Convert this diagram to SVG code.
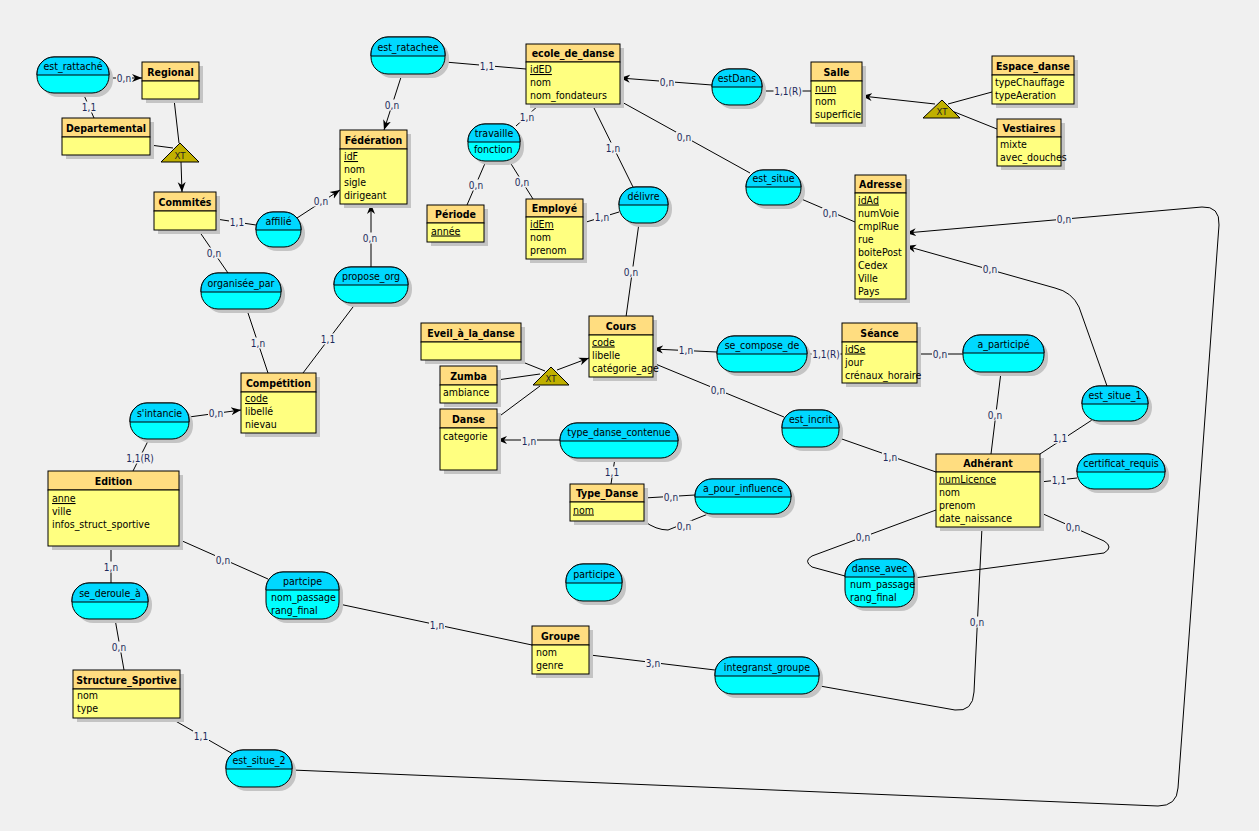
<svg xmlns="http://www.w3.org/2000/svg" width="1259" height="831" viewBox="0 0 1259 831">
<style>
text{font-family:"DejaVu Sans Condensed","DejaVu Sans",sans-serif;fill:#000}
.sh{fill:#c4c4c4}
.hd{fill:#ffdd80;stroke:#000;stroke-width:1}
.bd{fill:#ffff80;stroke:#000;stroke-width:1}
.ab{fill:#00ffff;stroke:#000;stroke-width:1}
.ah{fill:#00d8ff;stroke:#000;stroke-width:1}
.t{font-size:10.5px;font-weight:bold;text-anchor:middle}
.a{font-size:10.5px}
.u{text-decoration:underline}
.n{font-size:10.5px;text-anchor:middle}
.c{fill:none;stroke:#000;stroke-width:1}
.lb{fill:#f0f0f0}
.l{font-size:10px;text-anchor:middle;fill:#1c2a5a}
.tri{fill:#c0b000;stroke:#000;stroke-width:1}
.x{font-size:9.5px;text-anchor:middle;fill:#222}
</style>
<defs>
<marker id="arr" markerUnits="userSpaceOnUse" markerWidth="10" markerHeight="10" refX="10" refY="5" orient="auto">
<path d="M0,1 L10,5 L0,9 L3,5 Z" fill="#000"/>
</marker>
</defs>
<rect width="1259" height="831" fill="#f0f0f0"/>
<g id="connectors">
<path class="c" d="M109,78 L142,78" marker-end="url(#arr)"/>
<path class="c" d="M83,93 L94,118"/>
<path class="c" d="M174,99 L179,143"/>
<path class="c" d="M150,145 L173,148"/>
<path class="c" d="M181,162 L182,192" marker-end="url(#arr)"/>
<path class="c" d="M216,219 L256,225"/>
<path class="c" d="M297,218 L340,190" marker-end="url(#arr)"/>
<path class="c" d="M199,231 L228,273"/>
<path class="c" d="M371,267 L371,204" marker-end="url(#arr)"/>
<path class="c" d="M402,74 L384,130" marker-end="url(#arr)"/>
<path class="c" d="M445,62 L526,69"/>
<path class="c" d="M247,310 L268,373"/>
<path class="c" d="M356,303 L303,373"/>
<path class="c" d="M189,417 L241,410" marker-end="url(#arr)"/>
<path class="c" d="M149,439 L133,471"/>
<path class="c" d="M111,546 L111,583"/>
<path class="c" d="M115,619 L124,670"/>
<path class="c" d="M180,540 L268,579"/>
<path class="c" d="M339,604 L532,645"/>
<path class="c" d="M590,655 L715,670"/>
<path class="c" d="M820,686 L955,710 Q973,712 974,692 L982,527"/>
<path class="c" d="M292,770 L1158,806 Q1177,806 1178,788 L1219,225 Q1220,206 1202,207 L906,233" marker-end="url(#arr)"/>
<path class="c" d="M172,719 L233,754"/>
<path class="c" d="M1107,386 L1079,307 Q1072,292 1055,288 L906,246" marker-end="url(#arr)"/>
<path class="c" d="M1092,420 L1040,454"/>
<path class="c" d="M1040,482 L1077,478"/>
<path class="c" d="M1001,372 L991,454"/>
<path class="c" d="M917,354 L963,354"/>
<path class="c" d="M839,438 L936,472"/>
<path class="c" d="M936,510 L812,556 Q803,561 812,567 L845,576"/>
<path class="c" d="M1041,513 L1104,541 Q1114,547 1104,553 L914,578"/>
<path class="c" d="M784,417 L653,363"/>
<path class="c" d="M717,352 L653,349" marker-end="url(#arr)"/>
<path class="c" d="M807,354 L842,354"/>
<path class="c" d="M626,317 L639,223"/>
<path class="c" d="M583,223 L619,212"/>
<path class="c" d="M633,187 L592,104"/>
<path class="c" d="M516,126 L540,104"/>
<path class="c" d="M486,161 L467,205"/>
<path class="c" d="M508,159 L533,199"/>
<path class="c" d="M712,85 L620,78" marker-end="url(#arr)"/>
<path class="c" d="M762,91 L811,91"/>
<path class="c" d="M620,101 L750,173"/>
<path class="c" d="M799,198 L855,222"/>
<path class="c" d="M935,104 L862,96" marker-end="url(#arr)"/>
<path class="c" d="M948,104 L992,92"/>
<path class="c" d="M952,111 L997,129"/>
<path class="c" d="M497,380 L540,374"/>
<path class="c" d="M520,361 L545,371"/>
<path class="c" d="M497,418 L540,386"/>
<path class="c" d="M557,370 L589,358" marker-end="url(#arr)"/>
<path class="c" d="M560,440 L497,440" marker-end="url(#arr)"/>
<path class="c" d="M615,458 L611,484"/>
<path class="c" d="M644,498 L695,495"/>
<path class="c" d="M644,521 Q656,530 668,530 L708,514"/>
<rect class="lb" x="116" y="72.5" width="16" height="11"/><text class="l" x="124" y="81.5">0,n</text>
<rect class="lb" x="81" y="101.5" width="16" height="11"/><text class="l" x="89" y="110.5">1,1</text>
<rect class="lb" x="229" y="216.5" width="16" height="11"/><text class="l" x="237" y="225.5">1,1</text>
<rect class="lb" x="313" y="195.5" width="16" height="11"/><text class="l" x="321" y="204.5">0,n</text>
<rect class="lb" x="206" y="247.5" width="16" height="11"/><text class="l" x="214" y="256.5">0,n</text>
<rect class="lb" x="362" y="232.5" width="16" height="11"/><text class="l" x="370" y="241.5">0,n</text>
<rect class="lb" x="384" y="99.5" width="16" height="11"/><text class="l" x="392" y="108.5">0,n</text>
<rect class="lb" x="479" y="60.5" width="16" height="11"/><text class="l" x="487" y="69.5">1,1</text>
<rect class="lb" x="250" y="337.5" width="16" height="11"/><text class="l" x="258" y="346.5">1,n</text>
<rect class="lb" x="320" y="333.5" width="16" height="11"/><text class="l" x="328" y="342.5">1,1</text>
<rect class="lb" x="208" y="407.5" width="16" height="11"/><text class="l" x="216" y="416.5">0,n</text>
<rect class="lb" x="125.5" y="452.5" width="29" height="11"/><text class="l" x="140" y="461.5">1,1(R)</text>
<rect class="lb" x="103" y="561.5" width="16" height="11"/><text class="l" x="111" y="570.5">1,n</text>
<rect class="lb" x="111" y="641.5" width="16" height="11"/><text class="l" x="119" y="650.5">0,n</text>
<rect class="lb" x="215" y="554.5" width="16" height="11"/><text class="l" x="223" y="563.5">0,n</text>
<rect class="lb" x="429" y="619.5" width="16" height="11"/><text class="l" x="437" y="628.5">1,n</text>
<rect class="lb" x="645" y="657.5" width="16" height="11"/><text class="l" x="653" y="666.5">3,n</text>
<rect class="lb" x="969" y="616.5" width="16" height="11"/><text class="l" x="977" y="625.5">0,n</text>
<rect class="lb" x="1056" y="213.5" width="16" height="11"/><text class="l" x="1064" y="222.5">0,n</text>
<rect class="lb" x="193" y="730.5" width="16" height="11"/><text class="l" x="201" y="739.5">1,1</text>
<rect class="lb" x="982" y="263.5" width="16" height="11"/><text class="l" x="990" y="272.5">0,n</text>
<rect class="lb" x="1052" y="432.5" width="16" height="11"/><text class="l" x="1060" y="441.5">1,1</text>
<rect class="lb" x="1051" y="474.5" width="16" height="11"/><text class="l" x="1059" y="483.5">1,1</text>
<rect class="lb" x="987" y="409.5" width="16" height="11"/><text class="l" x="995" y="418.5">0,n</text>
<rect class="lb" x="932" y="348.5" width="16" height="11"/><text class="l" x="940" y="357.5">0,n</text>
<rect class="lb" x="882" y="451.5" width="16" height="11"/><text class="l" x="890" y="460.5">1,n</text>
<rect class="lb" x="855" y="531.5" width="16" height="11"/><text class="l" x="863" y="540.5">0,n</text>
<rect class="lb" x="1065" y="521.5" width="16" height="11"/><text class="l" x="1073" y="530.5">0,n</text>
<rect class="lb" x="710" y="384.5" width="16" height="11"/><text class="l" x="718" y="393.5">0,n</text>
<rect class="lb" x="678" y="344.5" width="16" height="11"/><text class="l" x="686" y="353.5">1,n</text>
<rect class="lb" x="811.5" y="348.5" width="29" height="11"/><text class="l" x="826" y="357.5">1,1(R)</text>
<rect class="lb" x="623" y="266.5" width="16" height="11"/><text class="l" x="631" y="275.5">0,n</text>
<rect class="lb" x="594" y="211.5" width="16" height="11"/><text class="l" x="602" y="220.5">1,n</text>
<rect class="lb" x="605" y="142.5" width="16" height="11"/><text class="l" x="613" y="151.5">1,n</text>
<rect class="lb" x="519" y="111.5" width="16" height="11"/><text class="l" x="527" y="120.5">1,n</text>
<rect class="lb" x="468" y="179.5" width="16" height="11"/><text class="l" x="476" y="188.5">0,n</text>
<rect class="lb" x="514" y="176.5" width="16" height="11"/><text class="l" x="522" y="185.5">0,n</text>
<rect class="lb" x="659" y="76.5" width="16" height="11"/><text class="l" x="667" y="85.5">0,n</text>
<rect class="lb" x="773.5" y="85.5" width="29" height="11"/><text class="l" x="788" y="94.5">1,1(R)</text>
<rect class="lb" x="676" y="131.5" width="16" height="11"/><text class="l" x="684" y="140.5">0,n</text>
<rect class="lb" x="822" y="207.5" width="16" height="11"/><text class="l" x="830" y="216.5">0,n</text>
<rect class="lb" x="521" y="435.5" width="16" height="11"/><text class="l" x="529" y="444.5">1,n</text>
<rect class="lb" x="604" y="466.5" width="16" height="11"/><text class="l" x="612" y="475.5">1,1</text>
<rect class="lb" x="663" y="491.5" width="16" height="11"/><text class="l" x="671" y="500.5">0,n</text>
<rect class="lb" x="676" y="520.5" width="16" height="11"/><text class="l" x="684" y="529.5">0,n</text>
</g>
<g id="xt1"><polygon class="tri" points="180,143 161,162 199,162"/><text class="x" x="180" y="159">XT</text></g>
<g id="xt2"><polygon class="tri" points="942,100 923,118 960,118"/><text class="x" x="942" y="115">XT</text></g>
<g id="xt3"><polygon class="tri" points="551,367 533,385 569,385"/><text class="x" x="551" y="382">XT</text></g>
<g id="regional"><rect class="sh" x="146" y="66" width="57" height="37"/><rect class="hd" x="142" y="62" width="57" height="19"/><rect class="bd" x="142" y="81" width="57" height="18"/><text class="t" x="170.5" y="75.5">Regional</text></g>
<g id="departemental"><rect class="sh" x="66" y="122" width="88" height="37"/><rect class="hd" x="62" y="118" width="88" height="19"/><rect class="bd" x="62" y="137" width="88" height="18"/><text class="t" x="106" y="131.5">Departemental</text></g>
<g id="commites"><rect class="sh" x="158" y="196" width="62" height="38"/><rect class="hd" x="154" y="192" width="62" height="19"/><rect class="bd" x="154" y="211" width="62" height="19"/><text class="t" x="185" y="205.5">Commités</text></g>
<g id="federation"><rect class="sh" x="344" y="134" width="67" height="74"/><rect class="hd" x="340" y="130" width="67" height="19"/><rect class="bd" x="340" y="149" width="67" height="55"/><text class="t" x="373.5" y="143.5">Fédération</text><text class="a u" x="344" y="160">idF</text><text class="a" x="344" y="173">nom</text><text class="a" x="344" y="186">sigle</text><text class="a" x="344" y="199">dirigeant</text></g>
<g id="competition"><rect class="sh" x="245" y="377" width="75" height="60"/><rect class="hd" x="241" y="373" width="75" height="19"/><rect class="bd" x="241" y="392" width="75" height="41"/><text class="t" x="278.5" y="386.5">Compétition</text><text class="a u" x="245" y="402">code</text><text class="a" x="245" y="415">libellé</text><text class="a" x="245" y="428">nievau</text></g>
<g id="edition"><rect class="sh" x="52" y="475" width="131" height="75"/><rect class="hd" x="48" y="471" width="131" height="19"/><rect class="bd" x="48" y="490" width="131" height="56"/><text class="t" x="113.5" y="484.5">Edition</text><text class="a u" x="52" y="502">anne</text><text class="a" x="52" y="515">ville</text><text class="a" x="52" y="528">infos_struct_sportive</text></g>
<g id="structure_sportive"><rect class="sh" x="77" y="674" width="107" height="48"/><rect class="hd" x="73" y="670" width="107" height="19"/><rect class="bd" x="73" y="689" width="107" height="29"/><text class="t" x="126.5" y="683.5">Structure_Sportive</text><text class="a" x="77" y="699">nom</text><text class="a" x="77" y="712">type</text></g>
<g id="ecole_de_danse"><rect class="sh" x="530" y="48" width="94" height="60"/><rect class="hd" x="526" y="44" width="94" height="18"/><rect class="bd" x="526" y="62" width="94" height="42"/><text class="t" x="573" y="57">ecole_de_danse</text><text class="a u" x="530" y="73">idED</text><text class="a" x="530" y="86">nom</text><text class="a" x="530" y="99">nom_fondateurs</text></g>
<g id="periode"><rect class="sh" x="431" y="209" width="57" height="37"/><rect class="hd" x="427" y="205" width="57" height="18"/><rect class="bd" x="427" y="223" width="57" height="19"/><text class="t" x="455.5" y="218">Période</text><text class="a u" x="431" y="234.5">année</text></g>
<g id="employe"><rect class="sh" x="530" y="203" width="57" height="60"/><rect class="hd" x="526" y="199" width="57" height="18"/><rect class="bd" x="526" y="217" width="57" height="42"/><text class="t" x="554.5" y="212">Employé</text><text class="a u" x="530" y="228">idEm</text><text class="a" x="530" y="241">nom</text><text class="a" x="530" y="254">prenom</text></g>
<g id="salle"><rect class="sh" x="815" y="66" width="51" height="61"/><rect class="hd" x="811" y="62" width="51" height="19"/><rect class="bd" x="811" y="81" width="51" height="42"/><text class="t" x="836.5" y="75.5">Salle</text><text class="a u" x="815" y="92">num</text><text class="a" x="815" y="105">nom</text><text class="a" x="815" y="118">superficie</text></g>
<g id="espace_danse"><rect class="sh" x="996" y="60" width="82" height="48"/><rect class="hd" x="992" y="56" width="82" height="19"/><rect class="bd" x="992" y="75" width="82" height="29"/><text class="t" x="1033" y="69.5">Espace_danse</text><text class="a" x="995" y="85.5">typeChauffage</text><text class="a" x="995" y="98.5">typeAeration</text></g>
<g id="vestiaires"><rect class="sh" x="1001" y="123" width="64" height="47"/><rect class="hd" x="997" y="119" width="64" height="18"/><rect class="bd" x="997" y="137" width="64" height="29"/><text class="t" x="1029" y="132">Vestiaires</text><text class="a" x="1000" y="147.5">mixte</text><text class="a" x="1000" y="160.5">avec_douches</text></g>
<g id="adresse"><rect class="sh" x="859" y="179" width="51" height="124"/><rect class="hd" x="855" y="175" width="51" height="18"/><rect class="bd" x="855" y="193" width="51" height="106"/><text class="t" x="880.5" y="188">Adresse</text><text class="a u" x="858" y="203.5">idAd</text><text class="a" x="858" y="216.5">numVoie</text><text class="a" x="858" y="229.5">cmplRue</text><text class="a" x="858" y="242.5">rue</text><text class="a" x="858" y="255.5">boitePost</text><text class="a" x="858" y="268.5">Cedex</text><text class="a" x="858" y="281.5">Ville</text><text class="a" x="858" y="294.5">Pays</text></g>
<g id="eveil"><rect class="sh" x="425" y="327" width="100" height="37"/><rect class="hd" x="421" y="323" width="100" height="19"/><rect class="bd" x="421" y="342" width="100" height="18"/><text class="t" x="471" y="336.5">Eveil_à_la_danse</text></g>
<g id="zumba"><rect class="sh" x="444" y="370" width="57" height="37"/><rect class="hd" x="440" y="366" width="57" height="19"/><rect class="bd" x="440" y="385" width="57" height="18"/><text class="t" x="468.5" y="379.5">Zumba</text><text class="a" x="443" y="395.5">ambiance</text></g>
<g id="danse"><rect class="sh" x="444" y="413" width="57" height="61"/><rect class="hd" x="440" y="409" width="57" height="19"/><rect class="bd" x="440" y="428" width="57" height="42"/><text class="t" x="468.5" y="422.5">Danse</text><text class="a" x="443" y="439.5">categorie</text></g>
<g id="cours"><rect class="sh" x="593" y="320" width="64" height="61"/><rect class="hd" x="589" y="316" width="64" height="19"/><rect class="bd" x="589" y="335" width="64" height="42"/><text class="t" x="621" y="329.5">Cours</text><text class="a u" x="592" y="345.5">code</text><text class="a" x="592" y="358.5">libelle</text><text class="a" x="592" y="371.5">catégorie_age</text></g>
<g id="type_danse"><rect class="sh" x="574" y="488" width="74" height="37"/><rect class="hd" x="570" y="484" width="74" height="18"/><rect class="bd" x="570" y="502" width="74" height="19"/><text class="t" x="607" y="497">Type_Danse</text><text class="a u" x="573" y="513.5">nom</text></g>
<g id="seance"><rect class="sh" x="846" y="327" width="75" height="60"/><rect class="hd" x="842" y="323" width="75" height="19"/><rect class="bd" x="842" y="342" width="75" height="41"/><text class="t" x="879.5" y="336.5">Séance</text><text class="a u" x="845" y="352.5">idSe</text><text class="a" x="845" y="365.5">jour</text><text class="a" x="845" y="378.5">crénaux_horaire</text></g>
<g id="adherant"><rect class="sh" x="940" y="458" width="104" height="73"/><rect class="hd" x="936" y="454" width="104" height="18"/><rect class="bd" x="936" y="472" width="104" height="55"/><text class="t" x="988" y="467">Adhérant</text><text class="a u" x="939" y="482.5">numLicence</text><text class="a" x="939" y="495.5">nom</text><text class="a" x="939" y="508.5">prenom</text><text class="a" x="939" y="521.5">date_naissance</text></g>
<g id="groupe"><rect class="sh" x="536" y="630" width="57" height="48"/><rect class="hd" x="532" y="626" width="57" height="19"/><rect class="bd" x="532" y="645" width="57" height="29"/><text class="t" x="560.5" y="639.5">Groupe</text><text class="a" x="536" y="656">nom</text><text class="a" x="536" y="669">genre</text></g>
<g id="est_rattache"><rect class="sh" x="41" y="61" width="72" height="36" rx="17"/><rect class="ab" x="37" y="57" width="72" height="36" rx="17"/><path class="ah" d="M37,75 V74 A17,17 0 0 1 54,57 H92 A17,17 0 0 1 109,74 V75 Z"/><text class="n" x="73" y="70">est_rattaché</text></g>
<g id="affilie"><rect class="sh" x="260" y="216" width="45" height="35" rx="17"/><rect class="ab" x="256" y="212" width="45" height="35" rx="17"/><path class="ah" d="M256,230 V229 A17,17 0 0 1 273,212 H284 A17,17 0 0 1 301,229 V230 Z"/><text class="n" x="278.5" y="225">affilié</text></g>
<g id="organisee_par"><rect class="sh" x="205" y="277" width="80" height="36" rx="17"/><rect class="ab" x="201" y="273" width="80" height="36" rx="17"/><path class="ah" d="M201,292 V290 A17,17 0 0 1 218,273 H264 A17,17 0 0 1 281,290 V292 Z"/><text class="n" x="241" y="286.5">organisée_par</text></g>
<g id="propose_org"><rect class="sh" x="338" y="271" width="74" height="36" rx="17"/><rect class="ab" x="334" y="267" width="74" height="36" rx="17"/><path class="ah" d="M334,285 V284 A17,17 0 0 1 351,267 H391 A17,17 0 0 1 408,284 V285 Z"/><text class="n" x="371" y="280">propose_org</text></g>
<g id="s_intancie"><rect class="sh" x="134" y="407" width="59" height="36" rx="17"/><rect class="ab" x="130" y="403" width="59" height="36" rx="17"/><path class="ah" d="M130,422 V420 A17,17 0 0 1 147,403 H172 A17,17 0 0 1 189,420 V422 Z"/><text class="n" x="159.5" y="416.5">s'intancie</text></g>
<g id="se_deroule_a"><rect class="sh" x="76" y="587" width="76" height="36" rx="17"/><rect class="ab" x="72" y="583" width="76" height="36" rx="17"/><path class="ah" d="M72,602 V600 A17,17 0 0 1 89,583 H131 A17,17 0 0 1 148,600 V602 Z"/><text class="n" x="110" y="596.5">se_deroule_à</text></g>
<g id="partcipe"><rect class="sh" x="270" y="576" width="73" height="47" rx="17"/><rect class="ab" x="266" y="572" width="73" height="47" rx="17"/><path class="ah" d="M266,590 V589 A17,17 0 0 1 283,572 H322 A17,17 0 0 1 339,589 V590 Z"/><text class="n" x="302.5" y="585">partcipe</text><text class="a" x="271" y="601">nom_passage</text><text class="a" x="271" y="614">rang_final</text></g>
<g id="est_situe_2"><rect class="sh" x="230" y="754" width="66" height="37" rx="17"/><rect class="ab" x="226" y="750" width="66" height="37" rx="17"/><path class="ah" d="M226,769 V767 A17,17 0 0 1 243,750 H275 A17,17 0 0 1 292,767 V769 Z"/><text class="n" x="259" y="763.5">est_situe_2</text></g>
<g id="est_ratachee"><rect class="sh" x="375" y="41" width="74" height="37" rx="17"/><rect class="ab" x="371" y="37" width="74" height="37" rx="17"/><path class="ah" d="M371,56 V54 A17,17 0 0 1 388,37 H428 A17,17 0 0 1 445,54 V56 Z"/><text class="n" x="408" y="50.5">est_ratachee</text></g>
<g id="travaille"><rect class="sh" x="472" y="128" width="52" height="37" rx="17"/><rect class="ab" x="468" y="124" width="52" height="37" rx="17"/><path class="ah" d="M468,142 V141 A17,17 0 0 1 485,124 H503 A17,17 0 0 1 520,141 V142 Z"/><text class="n" x="494" y="137">travaille</text><text class="a" x="474" y="153">fonction</text></g>
<g id="delivre"><rect class="sh" x="623" y="191" width="49" height="36" rx="17"/><rect class="ab" x="619" y="187" width="49" height="36" rx="17"/><path class="ah" d="M619,205 V204 A17,17 0 0 1 636,187 H651 A17,17 0 0 1 668,204 V205 Z"/><text class="n" x="643.5" y="200">délivre</text></g>
<g id="estDans"><rect class="sh" x="716" y="73" width="50" height="36" rx="17"/><rect class="ab" x="712" y="69" width="50" height="36" rx="17"/><path class="ah" d="M712,87 V86 A17,17 0 0 1 729,69 H745 A17,17 0 0 1 762,86 V87 Z"/><text class="n" x="737" y="82">estDans</text></g>
<g id="est_situe"><rect class="sh" x="750" y="174" width="55" height="35" rx="17"/><rect class="ab" x="746" y="170" width="55" height="35" rx="17"/><path class="ah" d="M746,187 A17,17 0 0 1 763,170 H784 A17,17 0 0 1 801,187 Z"/><text class="n" x="773.5" y="182">est_situe</text></g>
<g id="se_compose_de"><rect class="sh" x="721" y="340" width="90" height="36" rx="17"/><rect class="ab" x="717" y="336" width="90" height="36" rx="17"/><path class="ah" d="M717,354 V353 A17,17 0 0 1 734,336 H790 A17,17 0 0 1 807,353 V354 Z"/><text class="n" x="762" y="349">se_compose_de</text></g>
<g id="est_incrit"><rect class="sh" x="786" y="414" width="57" height="37" rx="17"/><rect class="ab" x="782" y="410" width="57" height="37" rx="17"/><path class="ah" d="M782,428 V427 A17,17 0 0 1 799,410 H822 A17,17 0 0 1 839,427 V428 Z"/><text class="n" x="810.5" y="423">est_incrit</text></g>
<g id="type_danse_contenue"><rect class="sh" x="564" y="427" width="118" height="35" rx="17"/><rect class="ab" x="560" y="423" width="118" height="35" rx="17"/><path class="ah" d="M560,441 V440 A17,17 0 0 1 577,423 H661 A17,17 0 0 1 678,440 V441 Z"/><text class="n" x="619" y="436">type_danse_contenue</text></g>
<g id="a_pour_influence"><rect class="sh" x="699" y="483" width="96" height="35" rx="17"/><rect class="ab" x="695" y="479" width="96" height="35" rx="17"/><path class="ah" d="M695,497 V496 A17,17 0 0 1 712,479 H774 A17,17 0 0 1 791,496 V497 Z"/><text class="n" x="743" y="492">a_pour_influence</text></g>
<g id="a_participe"><rect class="sh" x="967" y="339" width="81" height="37" rx="17"/><rect class="ab" x="963" y="335" width="81" height="37" rx="17"/><path class="ah" d="M963,353 V352 A17,17 0 0 1 980,335 H1027 A17,17 0 0 1 1044,352 V353 Z"/><text class="n" x="1003.5" y="348">a_participé</text></g>
<g id="est_situe_1"><rect class="sh" x="1086" y="390" width="66" height="35" rx="17"/><rect class="ab" x="1082" y="386" width="66" height="35" rx="17"/><path class="ah" d="M1082,404 V403 A17,17 0 0 1 1099,386 H1131 A17,17 0 0 1 1148,403 V404 Z"/><text class="n" x="1115" y="399">est_situe_1</text></g>
<g id="certificat_requis"><rect class="sh" x="1081" y="458" width="88" height="35" rx="17"/><rect class="ab" x="1077" y="454" width="88" height="35" rx="17"/><path class="ah" d="M1077,472 V471 A17,17 0 0 1 1094,454 H1148 A17,17 0 0 1 1165,471 V472 Z"/><text class="n" x="1121" y="467">certificat_requis</text></g>
<g id="danse_avec"><rect class="sh" x="849" y="563" width="69" height="48" rx="17"/><rect class="ab" x="845" y="559" width="69" height="48" rx="17"/><path class="ah" d="M845,577 V576 A17,17 0 0 1 862,559 H897 A17,17 0 0 1 914,576 V577 Z"/><text class="n" x="879.5" y="572">danse_avec</text><text class="a" x="850" y="588">num_passage</text><text class="a" x="850" y="601">rang_final</text></g>
<g id="participe"><rect class="sh" x="570" y="568" width="56" height="37" rx="17"/><rect class="ab" x="566" y="564" width="56" height="37" rx="17"/><path class="ah" d="M566,583 V581 A17,17 0 0 1 583,564 H605 A17,17 0 0 1 622,581 V583 Z"/><text class="n" x="594" y="577.5">participe</text></g>
<g id="integranst_groupe"><rect class="sh" x="719" y="661" width="104" height="37" rx="17"/><rect class="ab" x="715" y="657" width="104" height="37" rx="17"/><path class="ah" d="M715,676 V674 A17,17 0 0 1 732,657 H802 A17,17 0 0 1 819,674 V676 Z"/><text class="n" x="767" y="670.5">integranst_groupe</text></g>
</svg>
